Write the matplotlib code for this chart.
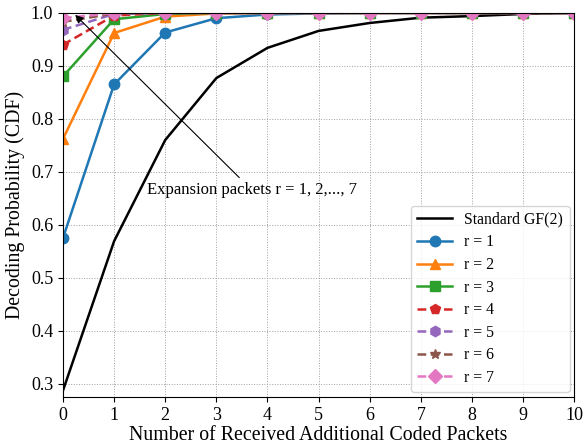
import matplotlib
matplotlib.use("Agg")
import matplotlib.pyplot as plt

plt.rcParams['font.family'] = ['Liberation Serif', 'DejaVu Serif']
plt.rcParams['mathtext.fontset'] = 'stix'

x = list(range(11))

standard = [0.287, 0.569, 0.760, 0.877, 0.934, 0.966, 0.981, 0.991, 0.994, 0.998, 1.0]
r1 = [0.575, 0.865, 0.963, 0.990, 0.997, 0.999, 1.0, 1.0, 1.0, 1.0, 1.0]
r2 = [0.762, 0.962, 0.993, 0.999, 1.0, 1.0, 1.0, 1.0, 1.0, 1.0, 1.0]
r3 = [0.880, 0.988, 0.998, 1.0, 1.0, 1.0, 1.0, 1.0, 1.0, 1.0, 1.0]
r4 = [0.940, 0.995, 1.0, 1.0, 1.0, 1.0, 1.0, 1.0, 1.0, 1.0, 1.0]
r5 = [0.968, 0.998, 1.0, 1.0, 1.0, 1.0, 1.0, 1.0, 1.0, 1.0, 1.0]
r6 = [0.983, 0.999, 1.0, 1.0, 1.0, 1.0, 1.0, 1.0, 1.0, 1.0, 1.0]
r7 = [0.990, 1.0, 1.0, 1.0, 1.0, 1.0, 1.0, 1.0, 1.0, 1.0, 1.0]

fig, ax = plt.subplots(figsize=(5.83, 4.45), dpi=100)

dash = (0, (3.5, 1.8))
ax.plot(x, standard, color='black', lw=1.8, label='Standard GF(2)')
ax.plot(x, r1, color='#1f77b4', marker='o', ms=7.5, lw=1.8, label='r = 1')
ax.plot(x, r2, color='#ff7f0e', marker='^', ms=7.5, lw=1.8, label='r = 2')
ax.plot(x, r3, color='#2ca02c', marker='s', ms=7.5, lw=1.8, label='r = 3')
ax.plot(x, r4, color='#d62728', marker='p', ms=7.5, lw=1.8, ls=dash, label='r = 4')
ax.plot(x, r5, color='#9467bd', marker='h', ms=7.5, lw=1.8, ls=dash, label='r = 5')
ax.plot(x, r6, color='#8c564b', marker='*', ms=7.5, lw=1.8, ls=dash, label='r = 6')
ax.plot(x, r7, color='#e377c2', marker='D', ms=7.5, lw=1.8, ls=dash, label='r = 7')

ax.annotate('Expansion packets r = 1, 2,..., 7', xy=(0.2, 1.0), xytext=(3.7, 0.665),
            ha='center', va='center', fontsize=12,
            arrowprops=dict(arrowstyle='-|>', color='black', lw=0.8))

ax.set_xlim(0, 10)
ax.set_ylim(0.275, 1.0)
ax.set_xticks(x)
ax.grid(True, ls=':', color='#a0a0a0', lw=0.7)
ax.tick_params(labelsize=13)
ax.set_xlabel('Number of Received Additional Coded Packets', fontsize=14.3, labelpad=2)
ax.set_ylabel('Decoding Probability (CDF)', fontsize=14.3)
ax.legend(loc='lower right', fontsize=11.3, handlelength=2.2, labelspacing=0.42,
          borderaxespad=0.3)

fig.subplots_adjust(left=0.108, right=0.985, top=0.971, bottom=0.108)
fig.savefig('out.png')
